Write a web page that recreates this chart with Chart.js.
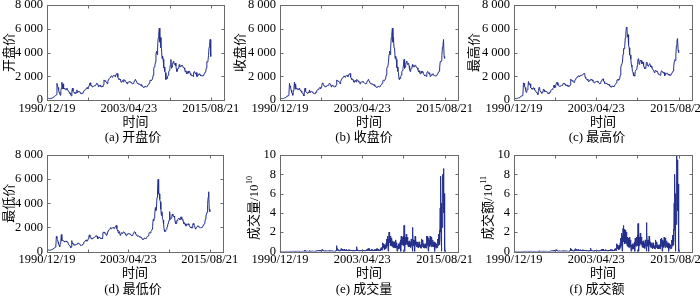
<!DOCTYPE html>
<html><head><meta charset="utf-8">
<script src="https://cdn.jsdelivr.net/npm/chart.js@4.4.0/dist/chart.umd.min.js"></script>
<style>
html,body{margin:0;padding:0;background:#fff;}
#wrap{position:relative;width:700px;height:296px;overflow:hidden;background:#fff;}
#wrap canvas{position:absolute;}
.cap{position:absolute;font-size:13px;font-family:'Liberation Serif','Noto Sans CJK SC',serif;line-height:16px;white-space:nowrap;transform:translateX(-50%);color:#000;}
</style></head><body><div id="wrap"></div>
<script>
// x positions are month indices: 0 = 1990/12, 296 = 2015/08
const xTickMonths = [0, 74, 148, 222, 296];
const xTickLabels = ['1990/12/19', '', '2003/04/23', '', '2015/08/21'];
const priceTicks = [0, 2000, 4000, 6000, 8000];
const volTicks = [0, 2, 4, 6, 8, 10];

const priceOpen = [100,
110,129,134,120,113,114,137,146,179,180,218,259,
292,313,365,371,445,1400,1170,1050,820,640,560,400,
780,1000,1500,925,1358,933,1007,920,876,915,877,1012,
833,771,768,641,567,578,458,340,775,1000,740,665,
647,563,550,647,589,850,631,710,726,721,687,626,
555,537,537,538,645,644,799,836,866,880,1001,1018,
1050,948,1063,1222,1390,1450,1243,1213,1181,1098,1156,1151,
1194,1223,1207,1238,1340,1411,1339,1324,1107,1225,1217,1248,
1147,1134,1090,1158,1120,1279,1690,1601,1628,1556,1520,1468,
1367,1535,1715,1800,1836,1894,1928,2023,2021,1910,1961,2070,
2073,2066,1960,2112,2119,2214,2230,1920,1834,1738,1689,1747,
1646,1490,1524,1603,1657,1515,1733,1652,1669,1581,1507,1434,
1358,1499,1511,1511,1521,1576,1487,1477,1421,1367,1349,1398,
1497,1590,1675,1742,1595,1555,1399,1386,1342,1396,1320,1340,
1266,1191,1306,1181,1159,1060,1080,1083,1162,1155,1092,1099,
1161,1258,1299,1298,1440,1641,1672,1612,1658,1752,1837,2099,
2675,2786,2881,3183,3841,4109,3820,4471,5218,5552,6050,4871,
5261,4383,4348,3472,3693,3433,2736,2775,2397,2293,1729,1871,
1821,1991,2082,2373,2477,2633,2959,3412,2667,2779,2996,3195,
3277,2989,3051,3110,2871,2592,2398,2638,2639,2656,2979,2820,
2808,2791,2906,2928,2912,2743,2762,2702,2568,2359,2469,2334,
2199,2293,2429,2263,2397,2373,2225,2103,2048,2086,2069,1980,
2269,2385,2366,2237,2178,2301,1979,1994,2098,2175,2142,2221,
2116,2033,2056,2033,2026,2039,2048,2202,2217,2364,2420,2683,
3235,3210,3310,3748,4442,4612,5100,3664];

const priceClose = [110,
129,134,120,113,114,137,146,179,180,218,259,292,
313,365,371,445,1400,1170,1050,820,640,560,400,780,
1000,1500,925,1358,933,1007,920,876,915,877,1012,833,
771,768,641,567,578,458,340,775,1000,740,665,647,
563,550,647,589,850,631,710,726,721,687,626,555,
537,537,538,645,644,799,836,866,880,1001,1018,1050,
948,1063,1222,1390,1450,1243,1213,1181,1098,1156,1151,1194,
1223,1207,1238,1340,1411,1339,1324,1107,1225,1217,1248,1147,
1134,1090,1158,1120,1279,1690,1601,1628,1556,1520,1468,1367,
1535,1715,1800,1836,1894,1928,2023,2021,1910,1961,2070,2073,
2066,1960,2112,2119,2214,2230,1920,1834,1738,1689,1747,1646,
1490,1524,1603,1657,1515,1733,1652,1669,1581,1507,1434,1358,
1499,1511,1511,1521,1576,1487,1477,1421,1367,1349,1398,1497,
1590,1675,1742,1595,1555,1399,1386,1342,1396,1320,1340,1266,
1191,1306,1181,1159,1060,1080,1083,1162,1155,1092,1099,1161,
1258,1299,1298,1440,1641,1672,1612,1658,1752,1837,2099,2675,
2786,2881,3183,3841,4109,3820,4471,5218,5552,6050,4871,5261,
4383,4348,3472,3693,3433,2736,2775,2397,2293,1729,1871,1821,
1991,2082,2373,2477,2633,2959,3412,2667,2779,2996,3195,3277,
2989,3051,3110,2871,2592,2398,2638,2639,2656,2979,2820,2808,
2791,2906,2928,2912,2743,2762,2702,2568,2359,2469,2334,2199,
2293,2429,2263,2397,2373,2225,2103,2048,2086,2069,1980,2269,
2385,2366,2237,2178,2301,1979,1994,2098,2175,2142,2221,2116,
2033,2056,2033,2026,2039,2048,2202,2217,2364,2420,2683,3235,
3210,3310,3748,4442,4612,5100,3664,3508];

const priceHigh = [127,
135,134,134,120,115,137,146,180,181,218,260,292,
313,365,375,445,1429,1400,1170,1050,820,640,780,850,
1050,1558,1300,1392,1358,1040,1007,920,940,915,1044,1012,
833,790,768,641,600,578,458,800,1052,1000,740,680,
647,563,650,647,926,850,720,730,730,721,687,626,
555,540,540,660,660,800,850,880,890,1005,1050,1258,
1050,1070,1230,1400,1510,1450,1243,1215,1181,1160,1160,1200,
1230,1225,1240,1350,1420,1411,1340,1324,1230,1225,1250,1248,
1147,1134,1160,1158,1280,1756,1690,1640,1628,1556,1520,1468,
1540,1720,1810,1840,1900,1930,2030,2030,2021,1965,2075,2080,
2080,2066,2115,2125,2220,2245,2230,1920,1834,1738,1750,1747,
1646,1525,1605,1660,1657,1748,1733,1670,1669,1581,1507,1434,
1500,1515,1515,1550,1580,1576,1487,1477,1421,1367,1400,1500,
1595,1680,1750,1783,1595,1555,1399,1386,1400,1396,1345,1340,
1266,1310,1306,1181,1159,1090,1090,1165,1170,1155,1100,1165,
1260,1300,1300,1445,1680,1680,1757,1660,1755,1840,2100,2698,
2980,3040,3190,3850,4335,4310,4480,5220,5560,6124,6050,5300,
5500,4600,4400,3790,3790,3450,2950,2800,2400,2300,2050,2100,
2010,2400,2400,2580,2690,2970,3440,3478,3000,3100,3360,3300,
3306,3060,3180,3180,2900,2750,2640,2700,2680,3160,3186,2940,
2840,2940,3000,3067,2920,2780,2830,2730,2570,2530,2536,2340,
2300,2480,2478,2400,2460,2380,2230,2180,2110,2120,2080,2270,
2450,2444,2390,2270,2334,2310,2050,2150,2270,2240,2245,2260,
2120,2180,2080,2150,2070,2090,2220,2250,2370,2440,2690,3240,
3400,3330,3800,4570,4990,5178,4200,4000];

const priceLow = [95,
105,125,118,105,105,114,134,146,175,180,218,255,
292,313,355,371,1250,1100,1000,800,610,540,386,650,
780,1400,900,920,900,880,870,780,860,850,870,790,
760,720,620,530,500,440,325,360,900,700,620,600,
524,540,540,560,580,610,620,700,700,660,600,555,
512,520,525,535,610,640,780,815,850,870,960,869,
870,940,1050,1210,1380,1200,1130,1130,1040,1050,1110,1120,
1150,1180,1190,1230,1330,1300,1280,1043,1100,1180,1200,1140,
1100,1047,1070,1110,1060,1600,1590,1600,1520,1480,1430,1340,
1360,1530,1700,1780,1810,1850,1920,1990,1880,1890,1950,2000,
1950,1893,1920,2060,2110,2170,1900,1780,1700,1514,1640,1620,
1339,1460,1500,1570,1500,1520,1630,1600,1560,1480,1410,1311,
1350,1460,1440,1470,1500,1460,1460,1410,1350,1307,1320,1380,
1490,1590,1650,1590,1500,1390,1340,1300,1260,1300,1300,1250,
1180,1180,1170,1140,1040,998,1010,1070,1110,1070,1074,1090,
1160,1230,1260,1290,1430,1560,1570,1540,1650,1740,1840,2070,
2640,2541,2780,3180,3640,3400,3560,4480,5200,5980,4780,4790,
4330,4120,3500,2990,3300,2720,2600,2260,1800,1664,1680,1800,
1844,1980,2030,2330,2430,2600,3300,2640,2640,2760,2990,3100,
2960,2890,2940,2800,2480,2320,2320,2580,2560,2660,2770,2720,
2660,2660,2850,2870,2690,2610,2660,2440,2300,2300,2300,2130,
2130,2280,2240,2240,2300,2200,2100,2030,2000,2040,1950,1960,
2260,2330,2200,2160,2160,1849,1950,2000,2070,2130,2110,2070,
1980,1990,1970,2000,1990,2010,2040,2170,2210,2300,2430,2680,
3040,3050,3270,3900,4500,4950,3500,3300];

// volume, 10^10 (monthly upper / lower swing)
const volHigh = [0.005,
0.005,0.005,0.005,0.005,0.005,0.006,0.006,0.008,0.008,0.01,0.01,0.012,
0.01,0.01,0.01,0.01,0.03,0.02,0.02,0.02,0.01,0.01,0.02,0.03,
0.03,0.05,0.04,0.05,0.03,0.03,0.02,0.03,0.03,0.02,0.04,0.03,
0.02,0.02,0.02,0.02,0.02,0.02,0.03,0.12,0.1,0.05,0.04,0.03,
0.03,0.03,0.04,0.03,0.1,0.04,0.05,0.05,0.04,0.03,0.03,0.03,
0.03,0.03,0.03,0.06,0.06,0.08,0.08,0.09,0.1,0.12,0.13,0.15,
0.08,0.1,0.12,0.18,0.2,0.1,0.08,0.07,0.08,0.08,0.06,0.06,
0.06,0.06,0.07,0.09,0.1,0.07,0.07,0.06,0.08,0.07,0.07,0.05,
0.05,0.04,0.05,0.05,0.15,0.6,0.3,0.25,0.2,0.12,0.1,0.08,
0.15,0.3,0.28,0.25,0.22,0.2,0.22,0.25,0.15,0.15,0.2,0.18,
0.15,0.12,0.2,0.18,0.18,0.15,0.14,0.12,0.1,0.12,0.15,0.12,
0.1,0.1,0.12,0.14,0.12,0.5,0.2,0.15,0.12,0.1,0.1,0.1,
0.15,0.12,0.12,0.2,0.18,0.12,0.12,0.12,0.1,0.1,0.14,0.2,
0.22,0.28,0.3,0.3,0.18,0.15,0.12,0.12,0.25,0.2,0.18,0.12,
0.12,0.2,0.2,0.15,0.18,0.3,0.2,0.3,0.25,0.15,0.15,0.2,
0.3,0.4,0.35,0.5,0.9,0.8,0.7,0.5,0.6,0.7,0.9,1.3,
1.5,1.6,1.3,2.0,2.0,1.6,1.3,1.4,1.2,1.1,0.8,1.0,
1.0,0.8,0.7,1.2,0.9,0.6,0.6,0.5,0.8,0.6,0.8,1.0,
1.2,1.6,1.4,1.5,1.3,1.6,2.7,2.4,1.4,1.5,1.8,1.6,
1.5,1.0,1.0,1.1,1.0,0.8,1.0,1.3,1.0,2.5,1.9,1.2,
1.0,1.2,1.6,1.4,1.0,0.9,1.0,1.0,0.8,1.0,1.0,0.7,
0.7,1.2,1.3,1.0,1.2,0.8,0.7,0.7,0.8,0.7,0.7,1.6,
1.6,1.5,1.4,1.0,1.2,1.6,1.0,1.4,1.5,1.1,1.2,1.0,
0.8,1.0,0.9,0.8,0.7,0.8,1.2,1.3,1.8,1.6,2.2,4.5,
7.8,3.0,5.0,7.5,8.0,8.6,6.0,4.0];

const volLow = [0.001,
0.001,0.001,0.001,0.001,0.001,0.001,0.001,0.002,0.002,0.002,0.003,0.003,
0.003,0.004,0.004,0.005,0.01,0.008,0.008,0.007,0.005,0.005,0.008,0.01,
0.01,0.02,0.015,0.015,0.012,0.01,0.01,0.01,0.01,0.01,0.012,0.01,
0.01,0.008,0.008,0.008,0.008,0.008,0.01,0.04,0.04,0.02,0.015,0.012,
0.012,0.012,0.015,0.012,0.03,0.015,0.02,0.02,0.015,0.012,0.012,0.012,
0.012,0.012,0.012,0.025,0.025,0.035,0.035,0.04,0.04,0.05,0.055,0.06,
0.035,0.04,0.05,0.08,0.08,0.045,0.035,0.03,0.035,0.035,0.03,0.03,
0.03,0.03,0.03,0.04,0.045,0.03,0.03,0.03,0.035,0.03,0.03,0.025,
0.02,0.02,0.02,0.02,0.06,0.2,0.12,0.1,0.08,0.05,0.045,0.035,
0.06,0.12,0.12,0.1,0.09,0.08,0.09,0.1,0.06,0.06,0.08,0.07,
0.06,0.05,0.08,0.07,0.07,0.06,0.06,0.05,0.04,0.05,0.06,0.05,
0.04,0.04,0.05,0.06,0.05,0.15,0.08,0.06,0.05,0.04,0.04,0.04,
0.06,0.05,0.05,0.08,0.07,0.05,0.05,0.05,0.04,0.04,0.06,0.08,
0.09,0.12,0.12,0.12,0.07,0.06,0.05,0.05,0.1,0.08,0.07,0.05,
0.05,0.08,0.08,0.06,0.07,0.12,0.08,0.12,0.1,0.06,0.06,0.08,
0.12,0.16,0.14,0.2,0.4,0.35,0.3,0.2,0.25,0.3,0.4,0.6,
0.7,0,0.6,0.9,0.9,0.7,0.6,0.6,0.5,0.5,0.4,0.5,
0.5,0.4,0.35,0.5,0.4,0,0.3,0.25,0.35,0.3,0.35,0.45,
0,0.7,0.7,0.7,0.6,0.7,1.2,0,0.7,0.7,0.8,0.7,
0.7,0.5,0.5,0.5,0.5,0.4,0.5,0.6,0.5,0,0.8,0.6,
0.5,0,0.7,0.6,0.5,0.45,0.5,0.5,0.4,0.5,0.5,0.35,
0.35,0.5,0.6,0.5,0.55,0.4,0.35,0.35,0.4,0.35,0.35,0.6,
0.7,0,0.7,0.5,0.6,0.7,0.5,0.6,0.7,0.5,0.55,0.5,
0.4,0,0.45,0.4,0.35,0.4,0.55,0.6,0.8,0.7,1.0,2.0,
3.0,0,2.5,4.0,4.5,4.0,2.5,0];

// turnover, 10^11 (monthly upper / lower swing)
const amtHigh = [0.001,
0.002,0.002,0.002,0.002,0.002,0.002,0.002,0.003,0.003,0.003,0.004,0.004,
0.005,0.005,0.005,0.006,0.03,0.02,0.015,0.012,0.008,0.006,0.01,0.015,
0.02,0.04,0.03,0.04,0.025,0.02,0.015,0.02,0.02,0.015,0.03,0.02,
0.015,0.012,0.01,0.01,0.01,0.01,0.012,0.06,0.06,0.03,0.025,0.02,
0.02,0.02,0.025,0.02,0.06,0.025,0.03,0.03,0.025,0.02,0.02,0.02,
0.02,0.02,0.02,0.04,0.04,0.06,0.06,0.07,0.08,0.1,0.11,0.12,
0.07,0.09,0.11,0.16,0.2,0.09,0.07,0.06,0.07,0.07,0.05,0.05,
0.05,0.05,0.06,0.08,0.09,0.06,0.06,0.05,0.07,0.06,0.06,0.045,
0.045,0.035,0.045,0.045,0.13,0.35,0.25,0.2,0.17,0.1,0.08,0.07,
0.14,0.28,0.26,0.24,0.2,0.18,0.2,0.22,0.14,0.14,0.18,0.17,
0.15,0.12,0.19,0.17,0.17,0.15,0.13,0.11,0.09,0.11,0.13,0.1,
0.08,0.08,0.1,0.12,0.1,0.35,0.15,0.12,0.1,0.08,0.08,0.08,
0.12,0.1,0.1,0.16,0.15,0.1,0.1,0.1,0.08,0.08,0.11,0.16,
0.18,0.24,0.26,0.26,0.15,0.12,0.1,0.1,0.2,0.16,0.15,0.1,
0.09,0.15,0.15,0.12,0.14,0.22,0.15,0.22,0.18,0.11,0.11,0.15,
0.22,0.3,0.26,0.4,0.8,0.7,0.6,0.45,0.55,0.65,0.9,1.4,
1.6,1.9,1.6,2.4,2.7,2.3,2.0,2.2,2.0,2.0,1.3,1.5,
1.4,1.1,0.9,1.5,1.2,0.8,0.7,0.6,0.8,0.6,0.7,0.9,
1.0,1.4,1.2,1.5,1.3,1.7,2.9,2.6,1.4,1.5,1.9,1.7,
1.5,1.0,1.0,1.1,0.9,0.7,0.9,1.2,1.0,3.0,2.0,1.2,
1.0,1.2,1.6,1.4,1.0,0.9,0.9,0.9,0.7,0.9,0.9,0.6,
0.6,1.0,1.2,0.9,1.0,0.7,0.6,0.6,0.7,0.6,0.6,1.3,
1.4,1.3,1.2,0.9,1.1,1.5,0.9,1.3,1.4,1.0,1.1,0.9,
0.7,0.9,0.8,0.7,0.6,0.7,1.1,1.2,1.7,1.5,2.3,5.0,
8.0,3.3,6.0,10.0,9.0,9.5,7.0,4.0];

const amtLow = [0,
0.001,0.001,0.001,0.001,0.001,0.001,0.001,0.001,0.001,0.001,0.001,0.001,
0.002,0.002,0.002,0.003,0.01,0.008,0.006,0.005,0.003,0.003,0.004,0.006,
0.008,0.015,0.012,0.015,0.01,0.008,0.006,0.008,0.008,0.006,0.012,0.008,
0.006,0.005,0.004,0.004,0.004,0.004,0.005,0.02,0.025,0.012,0.01,0.008,
0.008,0.008,0.01,0.008,0.02,0.01,0.012,0.012,0.01,0.008,0.008,0.008,
0.008,0.008,0.008,0.016,0.016,0.025,0.025,0.03,0.03,0.04,0.045,0.05,
0.03,0.035,0.045,0.065,0.08,0.035,0.03,0.025,0.03,0.03,0.02,0.02,
0.02,0.02,0.025,0.03,0.035,0.025,0.025,0.02,0.03,0.025,0.025,0.02,
0.018,0.014,0.018,0.018,0.05,0.12,0.1,0.08,0.07,0.04,0.03,0.03,
0.05,0.1,0.1,0.09,0.08,0.07,0.08,0.09,0.05,0.05,0.07,0.07,
0.06,0.05,0.07,0.07,0.07,0.06,0.05,0.045,0.035,0.045,0.05,0.04,
0.03,0.03,0.04,0.05,0.04,0.12,0.06,0.05,0.04,0.03,0.03,0.03,
0.05,0.04,0.04,0.06,0.06,0.04,0.04,0.04,0.03,0.03,0.045,0.06,
0.07,0.1,0.1,0.1,0.06,0.05,0.04,0.04,0.08,0.065,0.06,0.04,
0.035,0.06,0.06,0.05,0.055,0.09,0.06,0.09,0.07,0.045,0.045,0.06,
0.09,0.12,0.1,0.16,0.35,0.3,0.25,0.18,0.22,0.27,0.4,0.6,
0.7,0,0.7,1.0,1.1,0.9,0.8,0.9,0.8,0.8,0.55,0.6,
0.6,0.45,0.4,0.6,0.5,0,0.3,0.25,0.35,0.25,0.3,0.4,
0,0.6,0.55,0.7,0.6,0.75,1.3,0,0.6,0.7,0.8,0.75,
0.7,0.45,0.45,0.5,0.4,0.3,0.4,0.55,0.45,0,0.85,0.55,
0.45,0,0.7,0.6,0.45,0.4,0.4,0.4,0.3,0.4,0.4,0.28,
0.28,0.45,0.55,0.4,0.45,0.3,0.28,0.28,0.3,0.28,0.28,0.55,
0.6,0,0.55,0.4,0.5,0.6,0.4,0.55,0.6,0.45,0.5,0.4,
0.32,0,0.35,0.32,0.28,0.32,0.5,0.55,0.75,0.65,1.0,2.2,
3.3,0,2.8,4.5,4.5,4.2,3.0,0];

const LINE = '#25308c';
const SERIF = "'Liberation Serif', 'Times New Roman', serif";
const CJK = "'Liberation Serif', 'Noto Sans CJK SC', sans-serif";

function linePoints(arr) { return arr.map((v, i) => ({x: i, y: v})); }
function swingPoints(hi, lo) {
  const out = [];
  hi.forEach((v, i) => { out.push({x: i, y: v}); out.push({x: i + 0.5, y: lo[i]}); });
  return out;
}
function fmtThousands(v) { return v === 0 ? '0' : String(v).replace(/\B(?=(\d{3})+$)/g, ' '); }

const framePlugin = {
  id: 'frame',
  afterDatasetsDraw(chart) {
    const {ctx, chartArea: a, scales} = chart;
    const L = Math.round(a.left) + 0.5, R = Math.round(a.right) + 0.5;
    const T = Math.round(a.top) + 0.5, B = Math.round(a.bottom) + 0.5;
    ctx.save();
    ctx.strokeStyle = '#6a6a6a';
    ctx.lineWidth = 1;
    ctx.strokeRect(L, T, R - L, B - T);
    ctx.beginPath();
    scales.x.ticks.forEach(t => {
      const px = Math.round(scales.x.getPixelForValue(t.value)) + 0.5;
      ctx.moveTo(px, B); ctx.lineTo(px, B - 3);
      ctx.moveTo(px, T); ctx.lineTo(px, T + 3);
    });
    scales.y.ticks.forEach(t => {
      const py = Math.round(scales.y.getPixelForValue(t.value)) + 0.5;
      ctx.moveTo(L, py); ctx.lineTo(L + 3, py);
      ctx.moveTo(R, py); ctx.lineTo(R - 3, py);
    });
    ctx.stroke();
    ctx.restore();
  }
};

// y-axis title with a raised exponent (e.g. 成交量/10^10)
const supTitlePlugin = {
  id: 'supTitle',
  afterDraw(chart, args, opts) {
    if (!opts || !opts.main) return;
    const {ctx, chartArea: a} = chart;
    ctx.save();
    ctx.translate(opts.x, (a.top + a.bottom) / 2 + opts.dy);
    ctx.rotate(-Math.PI / 2);
    ctx.fillStyle = '#000';
    ctx.textBaseline = 'middle';
    ctx.textAlign = 'left';
    const mainFont = '13px ' + CJK, supFont = '8px ' + SERIF;
    ctx.font = mainFont;
    const w1 = ctx.measureText(opts.main).width;
    ctx.font = supFont;
    const w2 = ctx.measureText(opts.sup).width;
    const x0 = -(w1 + w2) / 2;
    ctx.font = mainFont;
    ctx.fillText(opts.main, x0, 0);
    ctx.font = supFont;
    ctx.fillText(opts.sup, x0 + w1 + 0.5, -5);
    ctx.restore();
  }
};

const panels = [
  {left: 0,   top: 0,   w: 260, h: 130, right: 36, pts: linePoints(priceOpen),  yt: priceTicks, ylab: '开盘价', ypad: 2, cap: '(a) 开盘价', cx: 133, cy: 129},
  {left: 233, top: 0,   w: 260, h: 130, right: 35, pts: linePoints(priceClose), yt: priceTicks, ylab: '收盘价', ypad: 0, cap: '(b) 收盘价', cx: 364, cy: 129},
  {left: 467, top: 0,   w: 233, h: 130, right: 8,  pts: linePoints(priceHigh),  yt: priceTicks, ylab: '最高价', ypad: 0, cap: '(c) 最高价', cx: 597, cy: 129},
  {left: 0,   top: 150, w: 260, h: 131, right: 37, pts: linePoints(priceLow),   yt: priceTicks, ylab: '最低价', ypad: 2, cap: '(d) 最低价', cx: 133, cy: 281},
  {left: 233, top: 150, w: 260, h: 131, right: 35, pts: swingPoints(volHigh, volLow), yt: volTicks, sup: {main: '成交量/10', sup: '10', x: 22, dy: 5}, cap: '(e) 成交量', cx: 364, cy: 281},
  {left: 467, top: 150, w: 233, h: 131, right: 8,  pts: swingPoints(amtHigh, amtLow), yt: volTicks, sup: {main: '成交额/10', sup: '11', x: 22, dy: 5}, cap: '(f) 成交额', cx: 597, cy: 281}
];

const wrap = document.getElementById('wrap');
panels.forEach(p => {
  const cv = document.createElement('canvas');
  cv.width = p.w; cv.height = p.h;
  cv.style.left = p.left + 'px'; cv.style.top = p.top + 'px';
  cv.style.width = p.w + 'px'; cv.style.height = p.h + 'px';
  wrap.appendChild(cv);
  const plotTop = 5, plotH = p.h === 130 ? 95 : 96.5;
  const yMax = p.yt[p.yt.length - 1];
  new Chart(cv, {
    type: 'line',
    data: {datasets: [{data: p.pts, borderColor: LINE, borderWidth: 1, pointRadius: 0, tension: 0, fill: false}]},
    options: {
      responsive: false, animation: false, events: [], devicePixelRatio: 1,
      parsing: false, normalized: true,
      layout: {padding: {left: 0, right: p.right, top: plotTop, bottom: 0}},
      plugins: {legend: {display: false}, tooltip: {enabled: false}, title: {display: false},
                supTitle: p.sup || {}},
      scales: {
        x: {
          type: 'linear', min: 0, max: 320,
          grid: {display: false, drawTicks: false}, border: {display: false},
          afterBuildTicks: s => { s.ticks = xTickMonths.map(v => ({value: v})); },
          afterFit: s => { s.height = p.h - plotTop - plotH; s.paddingLeft = 0; s.paddingRight = 0; },
          ticks: {
            autoSkip: false, maxRotation: 0, minRotation: 0, padding: 1, color: '#000',
            font: {family: SERIF, size: 12.5},
            callback: v => xTickLabels[xTickMonths.indexOf(v)] ?? ''
          },
          title: {display: true, text: '时间', color: '#000', font: {family: CJK, size: 13}, padding: {top: 0, bottom: 0}}
        },
        y: {
          type: 'linear', min: 0, max: yMax,
          grid: {display: false, drawTicks: false}, border: {display: false},
          afterBuildTicks: s => { s.ticks = p.yt.map(v => ({value: v})); },
          afterFit: s => { s.width = 47; s.paddingTop = 0; s.paddingBottom = 0; },
          ticks: {padding: 4, color: '#000', font: {family: SERIF, size: 12.5}, callback: v => fmtThousands(v)},
          title: {display: !!p.ylab, text: p.ylab || '', color: '#000', font: {family: CJK, size: 13}, padding: {top: p.ypad || 0, bottom: 0}}
        }
      }
    },
    plugins: [framePlugin, supTitlePlugin]
  });
  const cap = document.createElement('div');
  cap.className = 'cap';
  cap.textContent = p.cap;
  cap.style.left = p.cx + 'px';
  cap.style.top = p.cy + 'px';
  wrap.appendChild(cap);
});
</script></body></html>
